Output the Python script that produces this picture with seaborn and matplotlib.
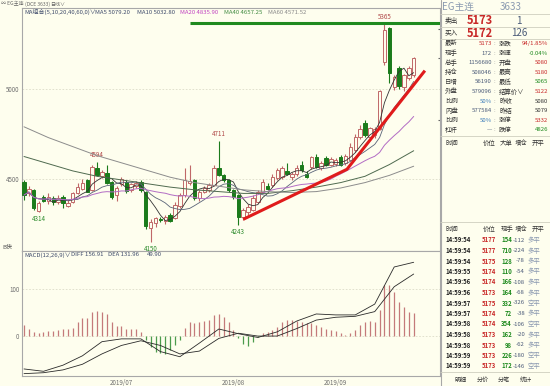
import matplotlib.pyplot as plt
import seaborn as sns
import pandas as pd
import numpy as np

sns.set_theme(style="white")
plt.rcParams['font.family'] = ['Noto Sans CJK SC', 'DejaVu Sans']

BG = "#fefeee"
UP = "#c06868"
DOWN = "#1b7b1b"

# daily candles (EG main contract)
opens = [4485, 4422, 4439, 4320, 4400, 4375, 4395, 4370, 4402, 4350,
         4372, 4422, 4445, 4494, 4440, 4560, 4515, 4533, 4485, 4411,
         4472, 4485, 4440, 4460, 4485, 4430, 4228, 4255, 4280, 4265,
         4300, 4283, 4350, 4411, 4480, 4494, 4393, 4430, 4439, 4467,
         4561, 4522, 4494, 4439, 4411, 4291, 4319, 4328, 4374, 4430,
         4460, 4467, 4505, 4510, 4545, 4510, 4525, 4578, 4530, 4568,
         4624, 4560, 4615, 4580, 4585, 4624, 4590, 4606, 4661, 4735,
         4811, 4733, 4745, 4780, 5152, 5337, 5013, 5117, 5011, 5061,
         5080]
highs = [4495, 4460, 4445, 4375, 4410, 4420, 4405, 4410, 4410, 4385,
         4430, 4480, 4500, 4500, 4575, 4594, 4550, 4578, 4490, 4460,
         4510, 4495, 4475, 4490, 4495, 4435, 4275, 4290, 4290, 4300,
         4310, 4370, 4420, 4561, 4580, 4500, 4440, 4460, 4480, 4575,
         4711, 4530, 4500, 4445, 4415, 4340, 4360, 4410, 4440, 4500,
         4480, 4530, 4560, 4570, 4590, 4540, 4580, 4600, 4545, 4630,
         4640, 4600, 4630, 4620, 4615, 4635, 4640, 4700, 4750, 4800,
         4830, 4790, 4790, 4995, 5365, 5345, 5075, 5125, 5085, 5125,
         5180]
lows = [4385, 4405, 4330, 4314, 4370, 4360, 4355, 4360, 4340, 4345,
        4365, 4415, 4440, 4425, 4435, 4515, 4505, 4470, 4390, 4380,
        4460, 4420, 4425, 4450, 4430, 4220, 4150, 4235, 4260, 4250,
        4260, 4275, 4340, 4400, 4465, 4385, 4380, 4420, 4430, 4460,
        4515, 4485, 4430, 4390, 4243, 4270, 4300, 4320, 4365, 4420,
        4440, 4455, 4495, 4500, 4520, 4495, 4515, 4540, 4505, 4555,
        4560, 4550, 4570, 4570, 4570, 4570, 4580, 4600, 4650, 4720,
        4735, 4720, 4730, 4770, 5133, 5033, 4995, 5000, 4990, 5050,
        5065]
closes = [4411, 4444, 4339, 4367, 4380, 4398, 4372, 4395, 4365, 4367,
          4422, 4457, 4480, 4430, 4568, 4522, 4540, 4478, 4400, 4450,
          4500, 4435, 4470, 4480, 4440, 4240, 4263, 4283, 4270, 4290,
          4268, 4356, 4411, 4494, 4490, 4394, 4430, 4450, 4467, 4561,
          4522, 4494, 4439, 4400, 4290, 4328, 4346, 4394, 4430, 4485,
          4445, 4513, 4550, 4560, 4530, 4530, 4560, 4550, 4510, 4624,
          4568, 4590, 4580, 4610, 4605, 4580, 4630, 4680, 4735, 4780,
          4744, 4783, 4775, 4990, 5328, 5087, 5069, 5017, 5078, 5117,
          5173]

# long moving averages (every 5 sessions)
ma_long_idx = [0, 5, 10, 15, 20, 25, 30, 35, 40, 45, 50, 55, 60, 65, 70, 75, 80]
ma40_vals = [4625, 4585, 4545, 4515, 4495, 4475, 4455, 4440, 4430, 4420,
             4420, 4435, 4455, 4480, 4515, 4580, 4657]
ma60_vals = [4790, 4730, 4680, 4630, 4590, 4550, 4510, 4480, 4460, 4440,
             4430, 4425, 4430, 4450, 4480, 4520, 4571]

# MACD lines (every 4 sessions)
macd_idx = [0, 4, 8, 12, 16, 20, 24, 28, 32, 36, 40, 44, 48, 52, 56, 60, 64, 68, 72, 76, 80]
diff_vals = [-70, -75, -62, -42, -12, -6, -6, -33, -44, -15, 15, 5, -3, 9, 32, 47, 45, 45, 68, 147, 157]
dea_vals = [-80, -78, -72, -60, -38, -20, -10, -20, -38, -32, -5, 6, 0, 0, 16, 34, 40, 42, 52, 105, 132]
macd_hist = [23, 15, 8, 6, 8, 10, 11, 12, 14, 15,
             18, 30, 38, 38, 52, 54, 52, 47, 30, 21,
             21, 16, 14, 14, 9, -9, -23, -33, -37, -38,
             -30, -19, -9, 18, 30, 28, 30, 33, 34, 45,
             47, 41, 30, 13, -5, -16, -21, -12, -3, 6,
             9, 13, 20, 30, 34, 34, 33, 30, 27, 27,
             23, 20, 16, 13, 11, 6, 2, 6, 13, 23,
             30, 33, 30, 55, 109, 109, 94, 73, 61, 52,
             50]

month_pos = [20, 43, 64]
month_labels = ["2019/07", "2019/08", "2019/09"]

peak_idx = [15, 40, 74]
trough_idx = [3, 26, 44]

trend_x = [45, 66.3, 82.3]
trend_y = [4276, 4554, 5102]
resist_level = 5367
resist_from = 34

W, H = 550, 386
fig = plt.figure(figsize=(5.5, 3.86), dpi=100, facecolor=BG)

def fx(x):
    return x / W

def fy(y):
    return 1 - y / H

ax = fig.add_axes([fx(22), fy(251), fx(418), 243 / H], facecolor=BG)
ax2 = fig.add_axes([fx(22), fy(376), fx(418), 125 / H], facecolor=BG)
side = fig.add_axes([fx(440), 0, fx(110), 1], facecolor=BG)

idx = np.arange(len(closes))
o = np.array(opens)
c = np.array(closes)
up = c >= o
cols = [UP if u else DOWN for u in up]
faces = [BG if u else DOWN for u in up]

ax.vlines(idx, lows, highs, colors=cols, lw=0.8, zorder=2)
ax.bar(idx, np.maximum(np.abs(c - o), 1), bottom=np.minimum(o, c), width=0.7,
       color=faces, edgecolor=cols, linewidth=0.7, zorder=3)

s = pd.Series(closes)
ma5 = s.rolling(5, min_periods=1).mean()
ma10 = s.rolling(10, min_periods=1).mean()
ma20 = s.rolling(20, min_periods=1).mean()
sns.lineplot(x=idx, y=ma5, ax=ax, color="#333333", lw=0.6, zorder=4)
sns.lineplot(x=idx, y=ma10, ax=ax, color="#5a6478", lw=0.6, zorder=4)
sns.lineplot(x=idx, y=ma20, ax=ax, color="#b26cc4", lw=0.7, zorder=4)
sns.lineplot(x=ma_long_idx, y=ma40_vals, ax=ax, color="#4f6a4f", lw=0.7, zorder=4)
sns.lineplot(x=ma_long_idx, y=ma60_vals, ax=ax, color="#8c8c8c", lw=0.7, zorder=4)

ax.plot(trend_x, trend_y, color="#e01b1b", lw=2.2, zorder=6, solid_capstyle="butt")
ax.hlines(resist_level, resist_from, 85.4, color="#1f8a1f", lw=2.2, zorder=6)

for i in peak_idx:
    ax.annotate(f"{highs[i]}", (i, highs[i]), xytext=(0, 2), textcoords="offset points",
                ha="center", va="bottom", fontsize=4.5, color="#b04848")
for i in trough_idx:
    ax.annotate(f"{lows[i]}", (i, lows[i]), xytext=(0, -2), textcoords="offset points",
                ha="center", va="top", fontsize=4.5, color="#2a8a2a")

for lv in [4500, 5000]:
    ax.axhline(lv, color="#dcdcc8", lw=0.6, ls=(0, (2, 2)), zorder=1)
for lv in [5332, 5173, 4826]:
    ax.hlines(lv, 84.9, 85.4, color="#666666", lw=0.8)

ax.set_xlim(-0.41, 85.4)
ax.set_ylim(4100, 5450)
ax.set_xticks([])
ax.set_yticks([4500, 5000])
ax.set_yticklabels(["4500", "5000"])
ax.tick_params(axis="y", length=0, pad=2, labelsize=4.5, labelcolor="#707070")
ax.set_ylabel("")

# MACD panel
hist_cols = ["#c47a7a" if v >= 0 else "#4c9c4c" for v in macd_hist]
ax2.vlines(idx, 0, macd_hist, colors=hist_cols, lw=0.9)
sns.lineplot(x=macd_idx, y=diff_vals, ax=ax2, color="#2a2a2a", lw=0.6)
sns.lineplot(x=macd_idx, y=dea_vals, ax=ax2, color="#2a2a2a", lw=0.6)
for lv in [0, 100]:
    ax2.axhline(lv, color="#dcdcc8", lw=0.6, ls=(0, (2, 2)), zorder=0)
ax2.set_xlim(-0.41, 85.4)
ax2.set_ylim(-85, 181)
ax2.set_yticks([0, 100])
ax2.set_yticklabels(["0", "100"])
ax2.set_xticks(month_pos)
ax2.set_xticklabels(month_labels)
ax2.tick_params(axis="y", length=0, pad=2, labelsize=4.5, labelcolor="#707070")
ax2.tick_params(axis="x", length=0, pad=2, labelsize=4.5, labelcolor="#707070")

for a in (ax, ax2):
    for sp in a.spines.values():
        sp.set_color("#a8a8a8")
        sp.set_linewidth(0.8)

# header texts
def t(x, y, txt, size=4.5, color="#555555", **kw):
    fig.text(fx(x), fy(y), txt, fontsize=size, color=color, va="center", **kw)

t(1, 4, "∞ EG主连", 3.6, "#666666")
t(25, 4, "(DCE 3633)", 3.6, "#666666")
t(50, 4, "日线∨", 3.6, "#666666")
t(24, 12, "MA组合(5,10,20,40,60,0)∨", 4.3, "#3d4a6a")
t(95, 12, "MA5 5079.20", 4.3, "#3d4a6a")
t(137, 12, "MA10 5032.80", 4.3, "#3d4a6a")
t(180, 12, "MA20 4835.90", 4.3, "#c040c0")
t(224, 12, "MA40 4657.25", 4.3, "#3f8a3f")
t(268, 12, "MA60 4571.52", 4.3, "#888888")
t(2, 247, "B快", 4.3, "#555555")
t(24, 255, "MACD(12,26,9)∨", 4.3, "#3d4a6a")
t(71, 255, "DIFF 156.91", 4.3, "#3d4a6a")
t(108, 255, "DEA 131.96", 4.3, "#3d4a6a")
t(147, 255, "49.90", 4.3, "#3d4a6a")

# right quote panel
side.set_xlim(440, 550)
side.set_ylim(386, 0)
side.axis("off")
RED = "#c82828"
GRN = "#1e8a1e"
SLATE = "#4a5a78"
LBL = "#333333"

def st(x, y, txt, size=4.6, color=LBL, ha="left", weight="normal"):
    side.text(x, y, txt, fontsize=size, color=color, ha=ha, va="center", fontweight=weight)

side.axvline(440.5, color="#a8a8a8", lw=0.8)
st(442, 7, "EG主连", 7, "#8a9ab0")
st(500, 7, "3633", 7, "#8a9ab0")
side.hlines([14, 27, 39], 440, 550, color="#cfcfbf", lw=0.6)
st(445, 20.5, "卖出", 4.8)
st(493, 20.5, "5173", 8, RED, ha="right", weight="bold")
st(522, 20.5, "1", 7, SLATE, ha="right")
st(445, 33.5, "买入", 4.8)
st(493, 33.5, "5172", 8, RED, ha="right", weight="bold")
st(527, 33.5, "126", 7, SLATE, ha="right")

left_labels = ["最新", "现手", "总手", "持仓", "日增", "外盘", "比例", "内盘", "比例", "杠杆"]
left_values = ["5173", "172", "1156680", "508046", "56190", "579096", "50%", "577584", "50%", "—"]
left_cols = [RED, SLATE, SLATE, SLATE, SLATE, SLATE, "#3a7ab8", SLATE, "#3a7ab8", SLATE]
right_labels = ["涨跌", "涨速", "开盘", "最高", "最低", "结算价∨", "昨收", "昨结", "涨停", "跌停"]
right_values = ["94/1.85%", "-0.04%", "5080", "5180", "5065", "5122", "5080", "5079", "5332", "4826"]
right_cols = [RED, GRN, RED, RED, GRN, RED, LBL, LBL, RED, GRN]
for k in range(len(left_labels)):
    y = 43.5 + k * 9.6
    st(445, y, left_labels[k], 4.6)
    st(492, y, left_values[k], 4.3, left_cols[k], ha="right")
    st(494, y, ":", 4.3, "#999999")
    st(499, y, right_labels[k], 4.6)
    st(548, y, right_values[k], 4.3, right_cols[k], ha="right")

side.hlines([136, 222, 372], 440, 550, color="#cfcfbf", lw=0.6)
heads1 = [(445, "时间"), (483, "价位"), (500, "大单"), (515, "增仓"), (532, "开平")]
for x, h in heads1:
    st(x, 142.5, h, 4.6)
heads2 = [(445, "时间"), (483, "价位"), (501, "现手"), (515, "增仓"), (532, "开平")]
for x, h in heads2:
    st(x, 228.5, h, 4.6)

tick_times = ["14:59:54", "14:59:54", "14:59:54", "14:59:55", "14:59:56", "14:59:56", "14:59:57",
              "14:59:57", "14:59:58", "14:59:58", "14:59:58", "14:59:59", "14:59:59"]
tick_prices = [5177, 5177, 5175, 5174, 5174, 5173, 5175, 5174, 5174, 5173, 5173, 5173, 5173]
tick_vols = [154, 710, 128, 110, 166, 164, 332, 72, 354, 162, 98, 226, 172]
tick_oi = [-112, -224, -78, -54, -108, -68, -326, -38, -106, -20, -62, -180, -146]
tick_types = ["多平", "多平", "多平", "多平", "多平", "多平", "空平", "多平", "空平", "多平", "多平", "空平", "空平"]
for k in range(len(tick_times)):
    y = 240 + k * 10.5
    st(445, y, tick_times[k], 4.3, "#222222", weight="bold")
    st(496, y, str(tick_prices[k]), 4.3, RED, ha="right", weight="bold")
    st(512, y, str(tick_vols[k]), 4.3, GRN, ha="right", weight="bold")
    st(525, y, str(tick_oi[k]), 4.3, SLATE, ha="right")
    st(528, y, tick_types[k], 4.6, "#8a98b0")

for x, tab in [(455, "明细"), (477, "分价"), (498, "分笔"), (520, "统计")]:
    st(x, 380, tab, 4.4, "#333333")

fig.savefig("out.png", dpi=100, facecolor=BG)
